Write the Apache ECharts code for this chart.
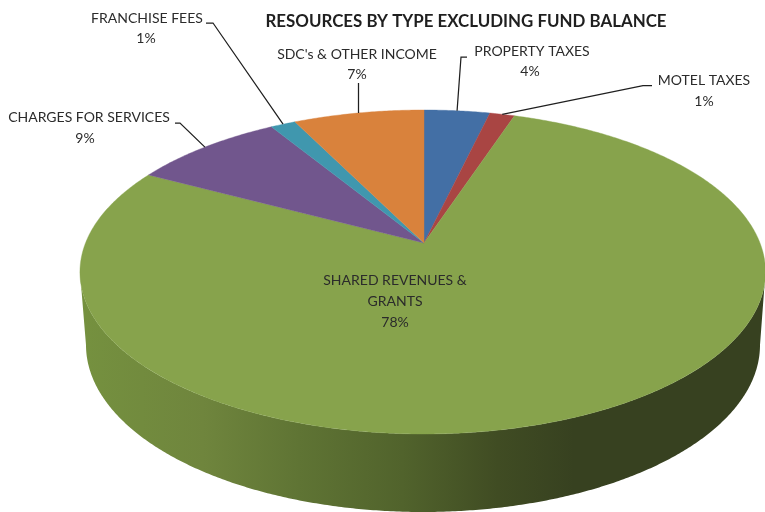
<!DOCTYPE html>
<html><head><meta charset="utf-8">
<style>html,body{margin:0;padding:0;background:#fff}#c{width:765px;height:512px}</style>
<script src="https://cdn.jsdelivr.net/npm/echarts@6/dist/echarts.min.js"></script>
</head><body><div id="c"></div>
<script>
// ---- data ----
const categories = ["PROPERTY TAXES","MOTEL TAXES","SHARED REVENUES & GRANTS","CHARGES FOR SERVICES","FRANCHISE FEES","SDC's & OTHER INCOME"];
const values = [3.7,1.4,77.7,8.5,1.4,7.3];
const percentLabels = ["4%","1%","78%","9%","1%","7%"];
const titleText = "RESOURCES BY TYPE EXCLUDING FUND BALANCE";
// ---- styles ----
const sliceColors = ["#436FA5","#A94543","#87A34C","#71568D","#4097AE","#D9823C"];
const wallStops = [[0,"#75913f"],[0.18,"#6f853d"],[0.32,"#5f7434"],[0.47,"#51632c"],[0.61,"#404c23"],[0.72,"#374120"],[1,"#374120"]];
const FONT = "Lato";
// ---- layout of the tilted disc (projection of a circle) ----
const view = {cx:424,cy:243,A:336,B:156.8,p:0.179,leftStretch:1.0074};
const base = {cx:423,cy:345,rx:337,ry:167};
const textLayout = [
 {lines:[[532,51,"PROPERTY TAXES"],[530,71,null]],leader:[[467,57],[461,57]]},
 {lines:[[704,80,"MOTEL TAXES"],[704,101,null]],leader:[[652,85.7],[643,85.7]]},
 {lines:[[395,280,"SHARED REVENUES &"],[395,301,"GRANTS"],[395,322,null]],leader:null},
 {lines:[[89,117,"CHARGES FOR SERVICES"],[85,138,null]],leader:[[175,123],[180,123]]},
 {lines:[[147,18,"FRANCHISE FEES"],[146,38,null]],leader:[[206,23],[213,23]]},
 {lines:[[357,54,"SDC's & OTHER INCOME"],[357,74,null]],leader:[[358.5,83]]}
];
const total = values.reduce((a,b)=>a+b,0);
function rim(f){
  const a=2*Math.PI*f, u=Math.sin(a), v=Math.cos(a), w=1+view.p*v;
  const dx=view.A*u/w*(u<0?view.leftStretch:1);
  return [view.cx+dx, view.cy-view.B*v/w];
}
function startOf(i){let s=0;for(let j=0;j<i;j++)s+=values[j];return s/total;}
function slicePoints(i){
  const s=startOf(i), e=s+values[i]/total, n=Math.max(8,Math.ceil((e-s)*720));
  const pts=[[view.cx,view.cy]];
  for(let t=0;t<=n;t++)pts.push(rim(s+(e-s)*t/n));
  return pts;
}
function wallPoints(){
  const lower=[];
  for(let t=0;t<=720;t++)lower.push(rim(0.2+0.6*t/720));
  let iR=0,iL=0;
  lower.forEach((q,i)=>{if(q[0]>lower[iR][0])iR=i;if(q[0]<lower[iL][0])iL=i;});
  const pts=lower.slice(iR,iL+1);
  for(let t=0;t<=360;t++){
    const a=Math.PI*t/360, x=base.cx-base.rx*Math.cos(a);
    pts.push([x, base.cy+base.ry*Math.sin(a)]);
  }
  return pts;
}
const chart=echarts.init(document.getElementById('c'),null,{renderer:'canvas'});
chart.setOption({
  animation:false,
  backgroundColor:'#fff',
  title:{text:titleText,left:461,top:8,textAlign:'center',textStyle:{fontFamily:FONT,fontWeight:'bold',fontSize:16.9,color:'#1f1f1f'}},
  series:[
   {type:'custom',coordinateSystem:'none',silent:true,data:[values[2]],z:1,
    renderItem(){return {type:'polygon',shape:{points:wallPoints()},
      style:{fill:new echarts.graphic.LinearGradient(0,0,1,0,wallStops.map(s=>({offset:s[0],color:s[1]})))}};}},
   {type:'custom',coordinateSystem:'none',silent:true,data:values,z:2,
    renderItem(params){const i=params.dataIndex;
      return {type:'polygon',shape:{points:slicePoints(i)},
        style:{fill:sliceColors[i],stroke:sliceColors[i],lineWidth:0.4}};}},
   {type:'custom',coordinateSystem:'none',silent:true,data:values,z:3,
    renderItem(params){const i=params.dataIndex, L=textLayout[i], kids=[];
      L.lines.forEach(l=>kids.push({type:'text',style:{x:l[0],y:l[1],text:l[2]===null?percentLabels[i]:l[2],
        align:'center',verticalAlign:'middle',fontFamily:FONT,fontSize:14,fill:'#2b2b2b'}}));
      if(L.leader){
        const end=rim(startOf(i)+values[i]/total/2);
        kids.push({type:'polyline',shape:{points:L.leader.concat([end])},style:{stroke:'#1f1f1f',lineWidth:1.25,fill:null}});
      }
      return {type:'group',children:kids};}}
  ]
});
</script></body></html>
